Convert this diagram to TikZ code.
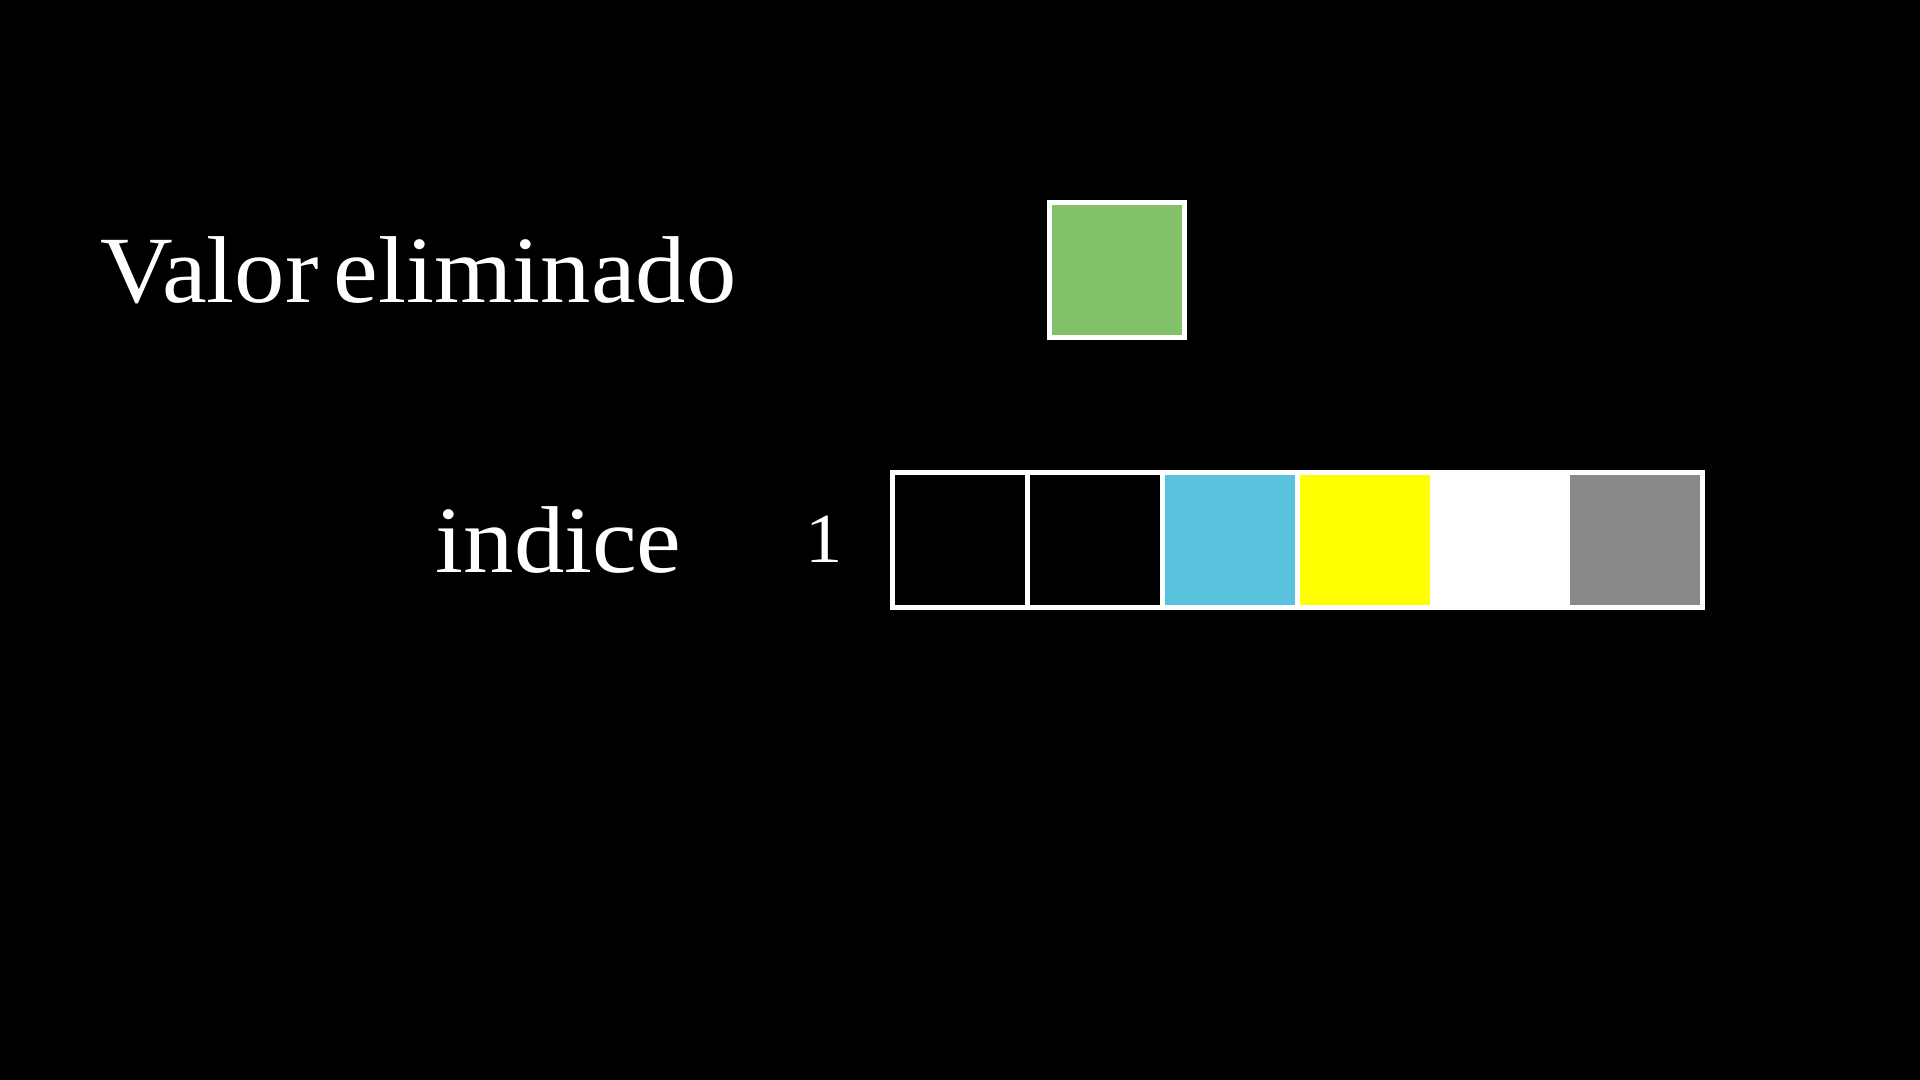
\documentclass[tikz,border=0pt]{standalone}
\usepackage{fontspec}
\setmainfont[FakeStretch=1.06,WordSpace=0.6]{Liberation Serif}
\definecolor{cellgreen}{HTML}{82C16A}
\definecolor{cellcyan}{HTML}{5BC2DD}
\definecolor{cellyellow}{HTML}{FFFF00}
\definecolor{cellgray}{HTML}{898989}
\begin{document}
\begin{tikzpicture}[x=0.01cm,y=-0.01cm,
  cellbox/.style={draw=white,line width=0.05cm,minimum width=1.35cm,minimum height=1.35cm,inner sep=0pt,outer sep=0pt},
  bigtext/.style={text=white,inner sep=0pt,font=\fontsize{27}{32}\selectfont},
  numtext/.style={text=white,inner sep=0pt,font=\fontsize{20}{24}\selectfont}]
\fill[black] (0,0) rectangle (1920,1080);
\useasboundingbox (0,0) rectangle (1920,1080);
% labels
\node[bigtext,anchor=base west] (lab) at (100,303) {Valor eliminado};
\node[bigtext,anchor=base west] (idx) at (435,573) {indice};
\node[numtext,anchor=base] (num) at (824.5,563) {1};
% removed value
\node[cellbox,fill=cellgreen] (val) at (1117,270) {};
% array cells
\node[cellbox,fill=black] (c1) at (960,540) {};
\node[cellbox,fill=black] (c2) at (1095,540) {};
\node[cellbox,fill=cellcyan] (c3) at (1230,540) {};
\node[cellbox,fill=cellyellow] (c4) at (1365,540) {};
\node[cellbox,fill=white] (c5) at (1500,540) {};
\node[cellbox,fill=cellgray] (c6) at (1635,540) {};
\end{tikzpicture}
\end{document}
